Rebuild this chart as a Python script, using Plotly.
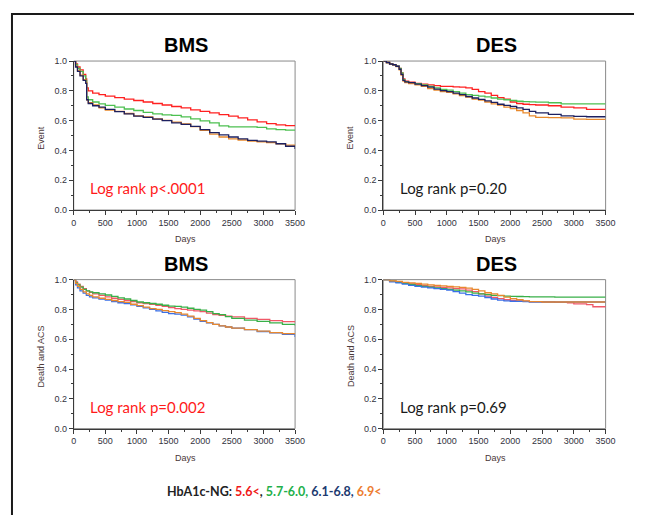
import plotly.graph_objects as go

# page has an 8px body margin, so the figure starts at (8, 8) in the window
OFF = 8
FW, FH = 645 - OFF, 523 - 2 * OFF

# ---------------- data ----------------
groups = ["5.6<", "5.7-6.0", "6.1-6.8", "6.9<"]

# Panel A: BMS, Event
a_days = [0, 30, 60, 100, 150, 190, 205, 230, 300, 400, 500, 650, 800, 950, 1100, 1250, 1400,
          1550, 1700, 1850, 2000, 2150, 2300, 2450, 2600, 2750, 2900, 3050, 3200, 3350, 3500]
a_red = [1.0, 0.98, 0.96, 0.94, 0.91, 0.88, 0.82, 0.80, 0.785, 0.775, 0.765, 0.755, 0.745, 0.735,
         0.725, 0.715, 0.705, 0.695, 0.685, 0.672, 0.662, 0.652, 0.64, 0.63, 0.618, 0.605, 0.592,
         0.58, 0.572, 0.566, 0.566]
a_green = [1.0, 0.975, 0.95, 0.93, 0.90, 0.87, 0.76, 0.74, 0.725, 0.712, 0.703, 0.69, 0.678, 0.668,
           0.655, 0.645, 0.638, 0.635, 0.625, 0.612, 0.598, 0.585, 0.565, 0.558, 0.558, 0.558,
           0.555, 0.545, 0.54, 0.536, 0.535]
a_navy = [1.0, 0.96, 0.93, 0.90, 0.87, 0.85, 0.74, 0.715, 0.70, 0.69, 0.675, 0.66, 0.645, 0.63,
          0.622, 0.61, 0.6, 0.585, 0.575, 0.562, 0.54, 0.52, 0.505, 0.49, 0.478, 0.468, 0.462,
          0.458, 0.445, 0.428, 0.41]
a_orange = [1.0, 0.965, 0.935, 0.905, 0.875, 0.855, 0.74, 0.72, 0.705, 0.685, 0.67, 0.662, 0.648,
            0.632, 0.625, 0.612, 0.602, 0.59, 0.578, 0.56, 0.535, 0.51, 0.49, 0.478, 0.47, 0.462,
            0.457, 0.452, 0.445, 0.435, 0.429]

# Panel B: DES, Event
b_days = [0, 50, 100, 150, 200, 250, 280, 310, 340, 400, 500, 600, 700, 800, 900, 1000, 1100, 1200,
          1300, 1400, 1500, 1600, 1700, 1800, 1900, 2000, 2100, 2200, 2300, 2400, 2600, 2800, 3000,
          3200, 3500]
b_red = [1.0, 0.99, 0.98, 0.975, 0.965, 0.95, 0.92, 0.88, 0.865, 0.858, 0.85, 0.845, 0.84, 0.835,
         0.83, 0.83, 0.827, 0.825, 0.82, 0.81, 0.795, 0.785, 0.77, 0.755, 0.745, 0.725, 0.715, 0.71,
         0.708, 0.705, 0.7, 0.69, 0.685, 0.675, 0.675]
b_green = [1.0, 0.99, 0.98, 0.975, 0.965, 0.95, 0.92, 0.875, 0.862, 0.855, 0.848, 0.84, 0.83, 0.82,
           0.81, 0.805, 0.795, 0.785, 0.775, 0.77, 0.765, 0.76, 0.752, 0.745, 0.74, 0.735, 0.73,
           0.728, 0.726, 0.724, 0.72, 0.712, 0.712, 0.712, 0.712]
b_navy = [1.0, 0.99, 0.98, 0.975, 0.965, 0.945, 0.91, 0.87, 0.86, 0.855, 0.845, 0.835, 0.825, 0.812,
          0.802, 0.795, 0.785, 0.775, 0.762, 0.752, 0.742, 0.732, 0.722, 0.71, 0.702, 0.695, 0.685,
          0.675, 0.662, 0.652, 0.642, 0.632, 0.628, 0.626, 0.626]
b_orange = [1.0, 0.99, 0.98, 0.975, 0.962, 0.94, 0.905, 0.865, 0.855, 0.848, 0.84, 0.83, 0.815,
            0.805, 0.795, 0.79, 0.78, 0.768, 0.758, 0.745, 0.738, 0.725, 0.712, 0.705, 0.69, 0.68,
            0.668, 0.652, 0.632, 0.622, 0.62, 0.618, 0.61, 0.609, 0.609]

# Panel C: BMS, Death and ACS
c_days = [0, 30, 60, 100, 150, 200, 250, 300, 400, 500, 600, 700, 800, 900, 1000, 1100, 1200, 1300,
          1400, 1500, 1600, 1700, 1800, 1900, 2000, 2100, 2200, 2300, 2400, 2500, 2700, 2900, 3100,
          3300, 3500]
c_red = [1.0, 0.985, 0.97, 0.955, 0.94, 0.925, 0.915, 0.905, 0.895, 0.885, 0.875, 0.868, 0.86,
         0.852, 0.845, 0.84, 0.835, 0.828, 0.82, 0.812, 0.805, 0.8, 0.795, 0.79, 0.785, 0.775, 0.765,
         0.76, 0.755, 0.75, 0.74, 0.733, 0.725, 0.718, 0.712]
c_green = [1.0, 0.98, 0.965, 0.95, 0.935, 0.925, 0.918, 0.912, 0.905, 0.897, 0.888, 0.878, 0.87,
           0.86, 0.85, 0.845, 0.84, 0.835, 0.828, 0.822, 0.82, 0.815, 0.808, 0.8, 0.795, 0.785,
           0.772, 0.765, 0.752, 0.74, 0.728, 0.72, 0.71, 0.7, 0.692]
c_blue = [1.0, 0.965, 0.945, 0.925, 0.91, 0.895, 0.885, 0.878, 0.87, 0.862, 0.852, 0.845, 0.84, 0.83,
          0.82, 0.81, 0.8, 0.79, 0.78, 0.772, 0.768, 0.762, 0.75, 0.735, 0.72, 0.71, 0.7, 0.69,
          0.682, 0.675, 0.665, 0.652, 0.643, 0.632, 0.615]
c_orange = [1.0, 0.975, 0.955, 0.935, 0.918, 0.905, 0.895, 0.885, 0.875, 0.868, 0.86, 0.852, 0.848,
            0.835, 0.825, 0.815, 0.805, 0.8, 0.792, 0.785, 0.778, 0.768, 0.755, 0.74, 0.725, 0.712,
            0.7, 0.69, 0.682, 0.675, 0.665, 0.655, 0.645, 0.638, 0.631]

# Panel D: DES, Death and ACS
d_days = [0, 100, 200, 300, 400, 500, 600, 700, 800, 900, 1000, 1100, 1200, 1300, 1400, 1500, 1600,
          1700, 1800, 1900, 2000, 2100, 2200, 2300, 2500, 2700, 2900, 3000, 3100, 3200, 3300, 3500]
d_red = [1.0, 0.99, 0.985, 0.978, 0.972, 0.966, 0.96, 0.955, 0.952, 0.948, 0.945, 0.94, 0.938, 0.93,
         0.92, 0.905, 0.89, 0.88, 0.872, 0.865, 0.86, 0.858, 0.855, 0.852, 0.85, 0.848, 0.845, 0.838,
         0.838, 0.832, 0.818, 0.817]
d_green = [1.0, 0.99, 0.982, 0.975, 0.968, 0.96, 0.955, 0.95, 0.945, 0.94, 0.935, 0.93, 0.925,
           0.918, 0.91, 0.905, 0.9, 0.895, 0.893, 0.89, 0.888, 0.887, 0.886, 0.885, 0.884, 0.883,
           0.883, 0.883, 0.883, 0.883, 0.883, 0.883]
d_blue = [1.0, 0.985, 0.978, 0.97, 0.962, 0.955, 0.95, 0.945, 0.94, 0.935, 0.93, 0.92, 0.91, 0.9,
          0.895, 0.89, 0.88, 0.87, 0.862, 0.858, 0.855, 0.855, 0.852, 0.85, 0.85, 0.85, 0.85, 0.85,
          0.85, 0.85, 0.85, 0.85]
d_orange = [1.0, 0.992, 0.988, 0.982, 0.978, 0.975, 0.97, 0.965, 0.962, 0.958, 0.955, 0.952, 0.948,
            0.943, 0.935, 0.925, 0.912, 0.905, 0.895, 0.882, 0.872, 0.865, 0.858, 0.852, 0.85, 0.85,
            0.85, 0.85, 0.85, 0.85, 0.85, 0.85]

x_ticks = [0, 500, 1000, 1500, 2000, 2500, 3000, 3500]
y_ticks = [0.0, 0.2, 0.4, 0.6, 0.8, 1.0]

panel_titles = ["BMS", "DES", "BMS", "DES"]
y_titles = ["Event", "Event", "Death and ACS", "Death and ACS"]
logrank = ["Log rank p<.0001", "Log rank p=0.20", "Log rank p=0.002", "Log rank p=0.69"]
logrank_colors = ["#ff1a1a", "#1a1a1a", "#ff1a1a", "#1a1a1a"]

top_colors = ["#ff2020", "#4cc050", "#1c2060", "#e8892c"]
bot_colors = ["#f05868", "#38b048", "#3a70e8", "#e8882e"]

panels = [
    (a_days, [a_red, a_green, a_navy, a_orange], top_colors),
    (b_days, [b_red, b_green, b_navy, b_orange], top_colors),
    (c_days, [c_red, c_green, c_blue, c_orange], bot_colors),
    (d_days, [d_red, d_green, d_blue, d_orange], bot_colors),
]

# ---------------- layout geometry (window pixels) ----------------
def px(x):
    return (x - OFF) / FW

def py(y):
    return 1 - (y - OFF) / FH

boxes = [  # (left, right, top, bottom) in window pixels
    (72, 298, 57, 209),
    (388, 615, 57, 209),
    (72, 298, 280, 432),
    (388, 615, 280, 432),
]

fig = go.Figure()
layout = dict(width=FW, height=FH, margin=dict(l=0, r=0, t=0, b=0),
              paper_bgcolor="white", plot_bgcolor="white", showlegend=False)

ann = []
shapes = []
tickfont = dict(family="Liberation Sans, Arial", size=9, color="#333340")
for i, ((days, series, cols), (l, r, t, b)) in enumerate(zip(panels, boxes)):
    k = "" if i == 0 else str(i + 1)
    xa, ya = "x" + k, "y" + k
    order = [0, 1, 3, 2] if i < 2 else [0, 1, 2, 3]
    for j in order:
        fig.add_trace(go.Scatter(x=days, y=series[j], mode="lines", line_shape="hv",
                                 line=dict(color=cols[j], width=1.3), name=groups[j],
                                 xaxis=xa, yaxis=ya, hoverinfo="skip"))
    axcommon = dict(showgrid=False, zeroline=False, showline=True, linecolor="#3a3a3a",
                    linewidth=1, ticks="outside", ticklen=4, tickcolor="#3a3a3a",
                    tickfont=tickfont, mirror=False)
    layout["xaxis" + k] = dict(axcommon, domain=[px(l), px(r)], range=[0, 3500],
                               tickvals=x_ticks, anchor=ya,
                               minor=dict(ticks="outside", ticklen=2, dtick=250,
                                          tickcolor="#3a3a3a"))
    layout["yaxis" + k] = dict(axcommon, domain=[py(b), py(t)], range=[0, 1],
                               tickvals=y_ticks, tickformat=".1f", anchor=xa,
                               minor=dict(ticks="outside", ticklen=2, dtick=0.1,
                                          tickcolor="#3a3a3a"))
    shapes.append(dict(type="rect", xref="paper", yref="paper", x0=px(l), x1=px(r),
                       y0=py(b), y1=py(t), line=dict(color="#8a8a8a", width=1), layer="below"))
    cx = (l + r) / 2
    ann.append(dict(text="<b>%s</b>" % panel_titles[i], x=px(cx + 2), y=py(t - 16),
                    xref="paper", yref="paper", showarrow=False, xanchor="center", yanchor="middle",
                    font=dict(family="Liberation Sans, Arial", size=20, color="#000000")))
    ann.append(dict(text="Days", x=px(cx + 1), y=py(b + 30), xref="paper", yref="paper",
                    showarrow=False, xanchor="center", yanchor="middle",
                    font=dict(family="Liberation Sans, Arial", size=9, color="#4a3838")))
    ann.append(dict(text=y_titles[i], x=px(l - 33), y=py((t + b) / 2 + 2), xref="paper",
                    yref="paper", showarrow=False, textangle=-90, xanchor="center",
                    yanchor="middle",
                    font=dict(family="Liberation Sans, Arial", size=9, color="#4a3838")))
    ann.append(dict(text=logrank[i], x=px(l + 15), y=py(b - 22), xref="paper", yref="paper",
                    showarrow=False, xanchor="left", yanchor="middle",
                    font=dict(family="Lato, Open Sans", size=15, color=logrank_colors[i])))

legend_html = ("<b><span style='color:#222222'>HbA1c-NG: </span>"
               "<span style='color:#f01818'>%s</span><span style='color:#222222'>, </span>"
               "<span style='color:#22b04a'>%s, </span>"
               "<span style='color:#203a70'>%s, </span>"
               "<span style='color:#ed7d31'>%s</span></b>") % tuple(groups)
ann.append(dict(text=legend_html, x=px(165), y=py(496), xref="paper", yref="paper",
                showarrow=False, xanchor="left", yanchor="middle",
                font=dict(family="Lato, Open Sans", size=12.5, color="#222222")))

# outer frame (left and top edges only), drawn as one open path
fx, fy, fr, fb = px(9), py(9), px(644), py(520)
shapes.append(dict(type="path", xref="paper", yref="paper",
                   path="M %.5f,%.5f L %.5f,%.5f L %.5f,%.5f" % (fx, fb, fx, fy, fr, fy),
                   line=dict(color="#1a1a1a", width=2)))

layout["annotations"] = ann
layout["shapes"] = shapes
fig.update_layout(**layout)
fig.write_html("out.html")
